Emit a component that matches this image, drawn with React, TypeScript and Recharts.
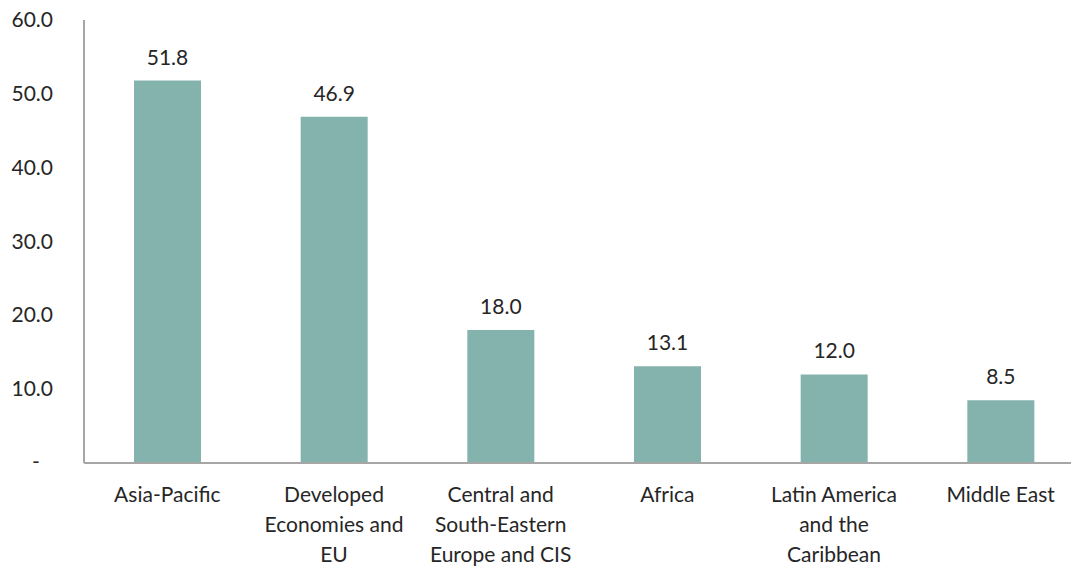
import React from 'react';
import { BarChart, Bar, XAxis, YAxis, LabelList } from 'recharts';

const regions = [
  'Asia-Pacific',
  'Developed\nEconomies and\nEU',
  'Central and\nSouth-Eastern\nEurope and CIS',
  'Africa',
  'Latin America\nand the\nCaribbean',
  'Middle East',
];
const shares = [51.8, 46.9, 18.0, 13.1, 12.0, 8.5];
const yTicks = [0, 10, 20, 30, 40, 50, 60];

const data = regions.map((name, i) => ({ name, value: shares[i] }));

const FONT = 'Lato, "Liberation Sans", sans-serif';
const TEXT = '#262626';
const SIZE = 21;

const YTick = ({ x, y, payload }: any) => {
  const v = payload.value;
  if (v === 0) {
    return (
      <text x={x - 40} y={y} dy={6} textAnchor="middle" fill={TEXT} fontSize={SIZE} fontFamily={FONT}>
        -
      </text>
    );
  }
  return (
    <text x={x - 23} y={y} dy={7} textAnchor="end" fill={TEXT} fontSize={SIZE} fontFamily={FONT}>
      {v.toFixed(1)}
    </text>
  );
};

const XTick = ({ x, y, payload }: any) => {
  const lines = String(payload.value).split('\n');
  return (
    <text x={x} y={y} textAnchor="middle" fill={TEXT} fontSize={SIZE} fontFamily={FONT}>
      {lines.map((line, i) => (
        <tspan key={i} x={x} dy={i === 0 ? 31 : 30}>
          {line}
        </tspan>
      ))}
    </text>
  );
};

export default function App() {
  return (
    <div
      style={{
        position: 'absolute',
        left: 0,
        top: 0,
        width: 1071,
        height: 570,
        overflow: 'hidden',
        background: '#fff',
      }}
    >
      <BarChart
        width={1084}
        height={570}
        data={data}
        margin={{ top: 20, right: 0, bottom: 0, left: 0 }}
        barCategoryGap="30%"
      >
        <YAxis
          width={84}
          domain={[0, 60]}
          ticks={yTicks}
          interval={0}
          tickLine={false}
          axisLine={{ stroke: '#a6a6a6', strokeWidth: 2 }}
          tick={<YTick />}
        />
        <XAxis
          dataKey="name"
          height={107}
          interval={0}
          tickLine={false}
          axisLine={{ stroke: '#a6a6a6', strokeWidth: 2 }}
          tick={<XTick />}
        />
        <Bar dataKey="value" fill="#84b2ad" isAnimationActive={false}>
          <LabelList
            dataKey="value"
            position="top"
            offset={16}
            formatter={(v: any) => Number(v).toFixed(1)}
            fill={TEXT}
            fontSize={SIZE}
            fontFamily={FONT}
          />
        </Bar>
      </BarChart>
    </div>
  );
}
